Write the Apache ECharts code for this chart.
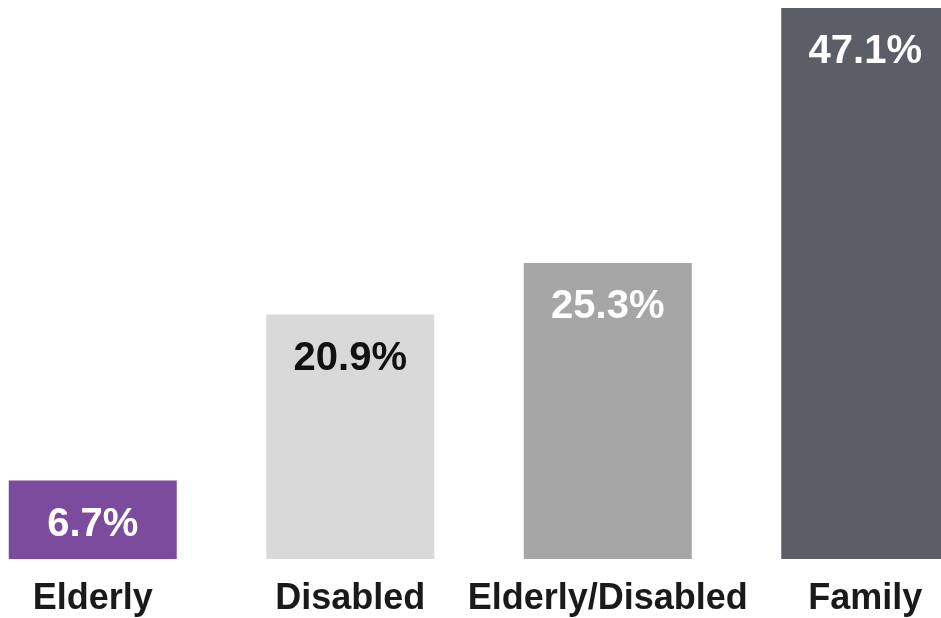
<!DOCTYPE html>
<html>
<head>
<meta charset="utf-8">
<script src="https://cdn.jsdelivr.net/npm/echarts@6/dist/echarts.min.js"></script>
<style>
  html, body { margin: 0; padding: 0; background: #fff; overflow: hidden; }
  /* the plot runs past the right edge in the original, so the canvas is wider than the window */
  #chart { position: absolute; left: -36px; top: 0; width: 1030px; height: 618px; }
</style>
</head>
<body>
<div id="chart"></div>
<script>
// data
const categories = ["Elderly", "Disabled", "Elderly/Disabled", "Family"];
const shares = [6.7, 20.9, 25.3, 47.1];
const barColors = ["#7b4b9d", "#d9d9d9", "#a6a6a6", "#5a5e66"];
const labelColors = ["#ffffff", "#111111", "#ffffff", "#ffffff"];

const chart = echarts.init(document.getElementById("chart"));
chart.setOption({
  backgroundColor: "#ffffff",
  animation: false,
  grid: {
    left: 0,
    right: 0,
    top: 8,
    bottom: 59,
  },
  xAxis: {
    type: "category",
    data: categories,
    axisLine: { show: false },
    axisTick: { show: false },
    axisLabel: {
      interval: 0,
      margin: 22,
      color: "#1a1a1a",
      fontSize: 36,
      fontWeight: "bold",
      fontFamily: "Liberation Sans, Arial, sans-serif",
    },
  },
  yAxis: {
    type: "value",
    min: 0,
    max: 47.1,
    show: false,
    splitLine: { show: false },
  },
  series: [
    {
      type: "bar",
      barWidth: 168,
      data: shares.map((v, i) => ({
        value: v,
        itemStyle: { color: barColors[i] },
        label: { color: labelColors[i] },
      })),
      label: {
        show: true,
        position: "insideTop",
        distance: 24,
        fontSize: 40,
        fontWeight: "bold",
        fontFamily: "Liberation Sans, Arial, sans-serif",
        formatter: (p) => p.value.toFixed(1) + "%",
      },
    },
  ],
});
</script>
</body>
</html>
